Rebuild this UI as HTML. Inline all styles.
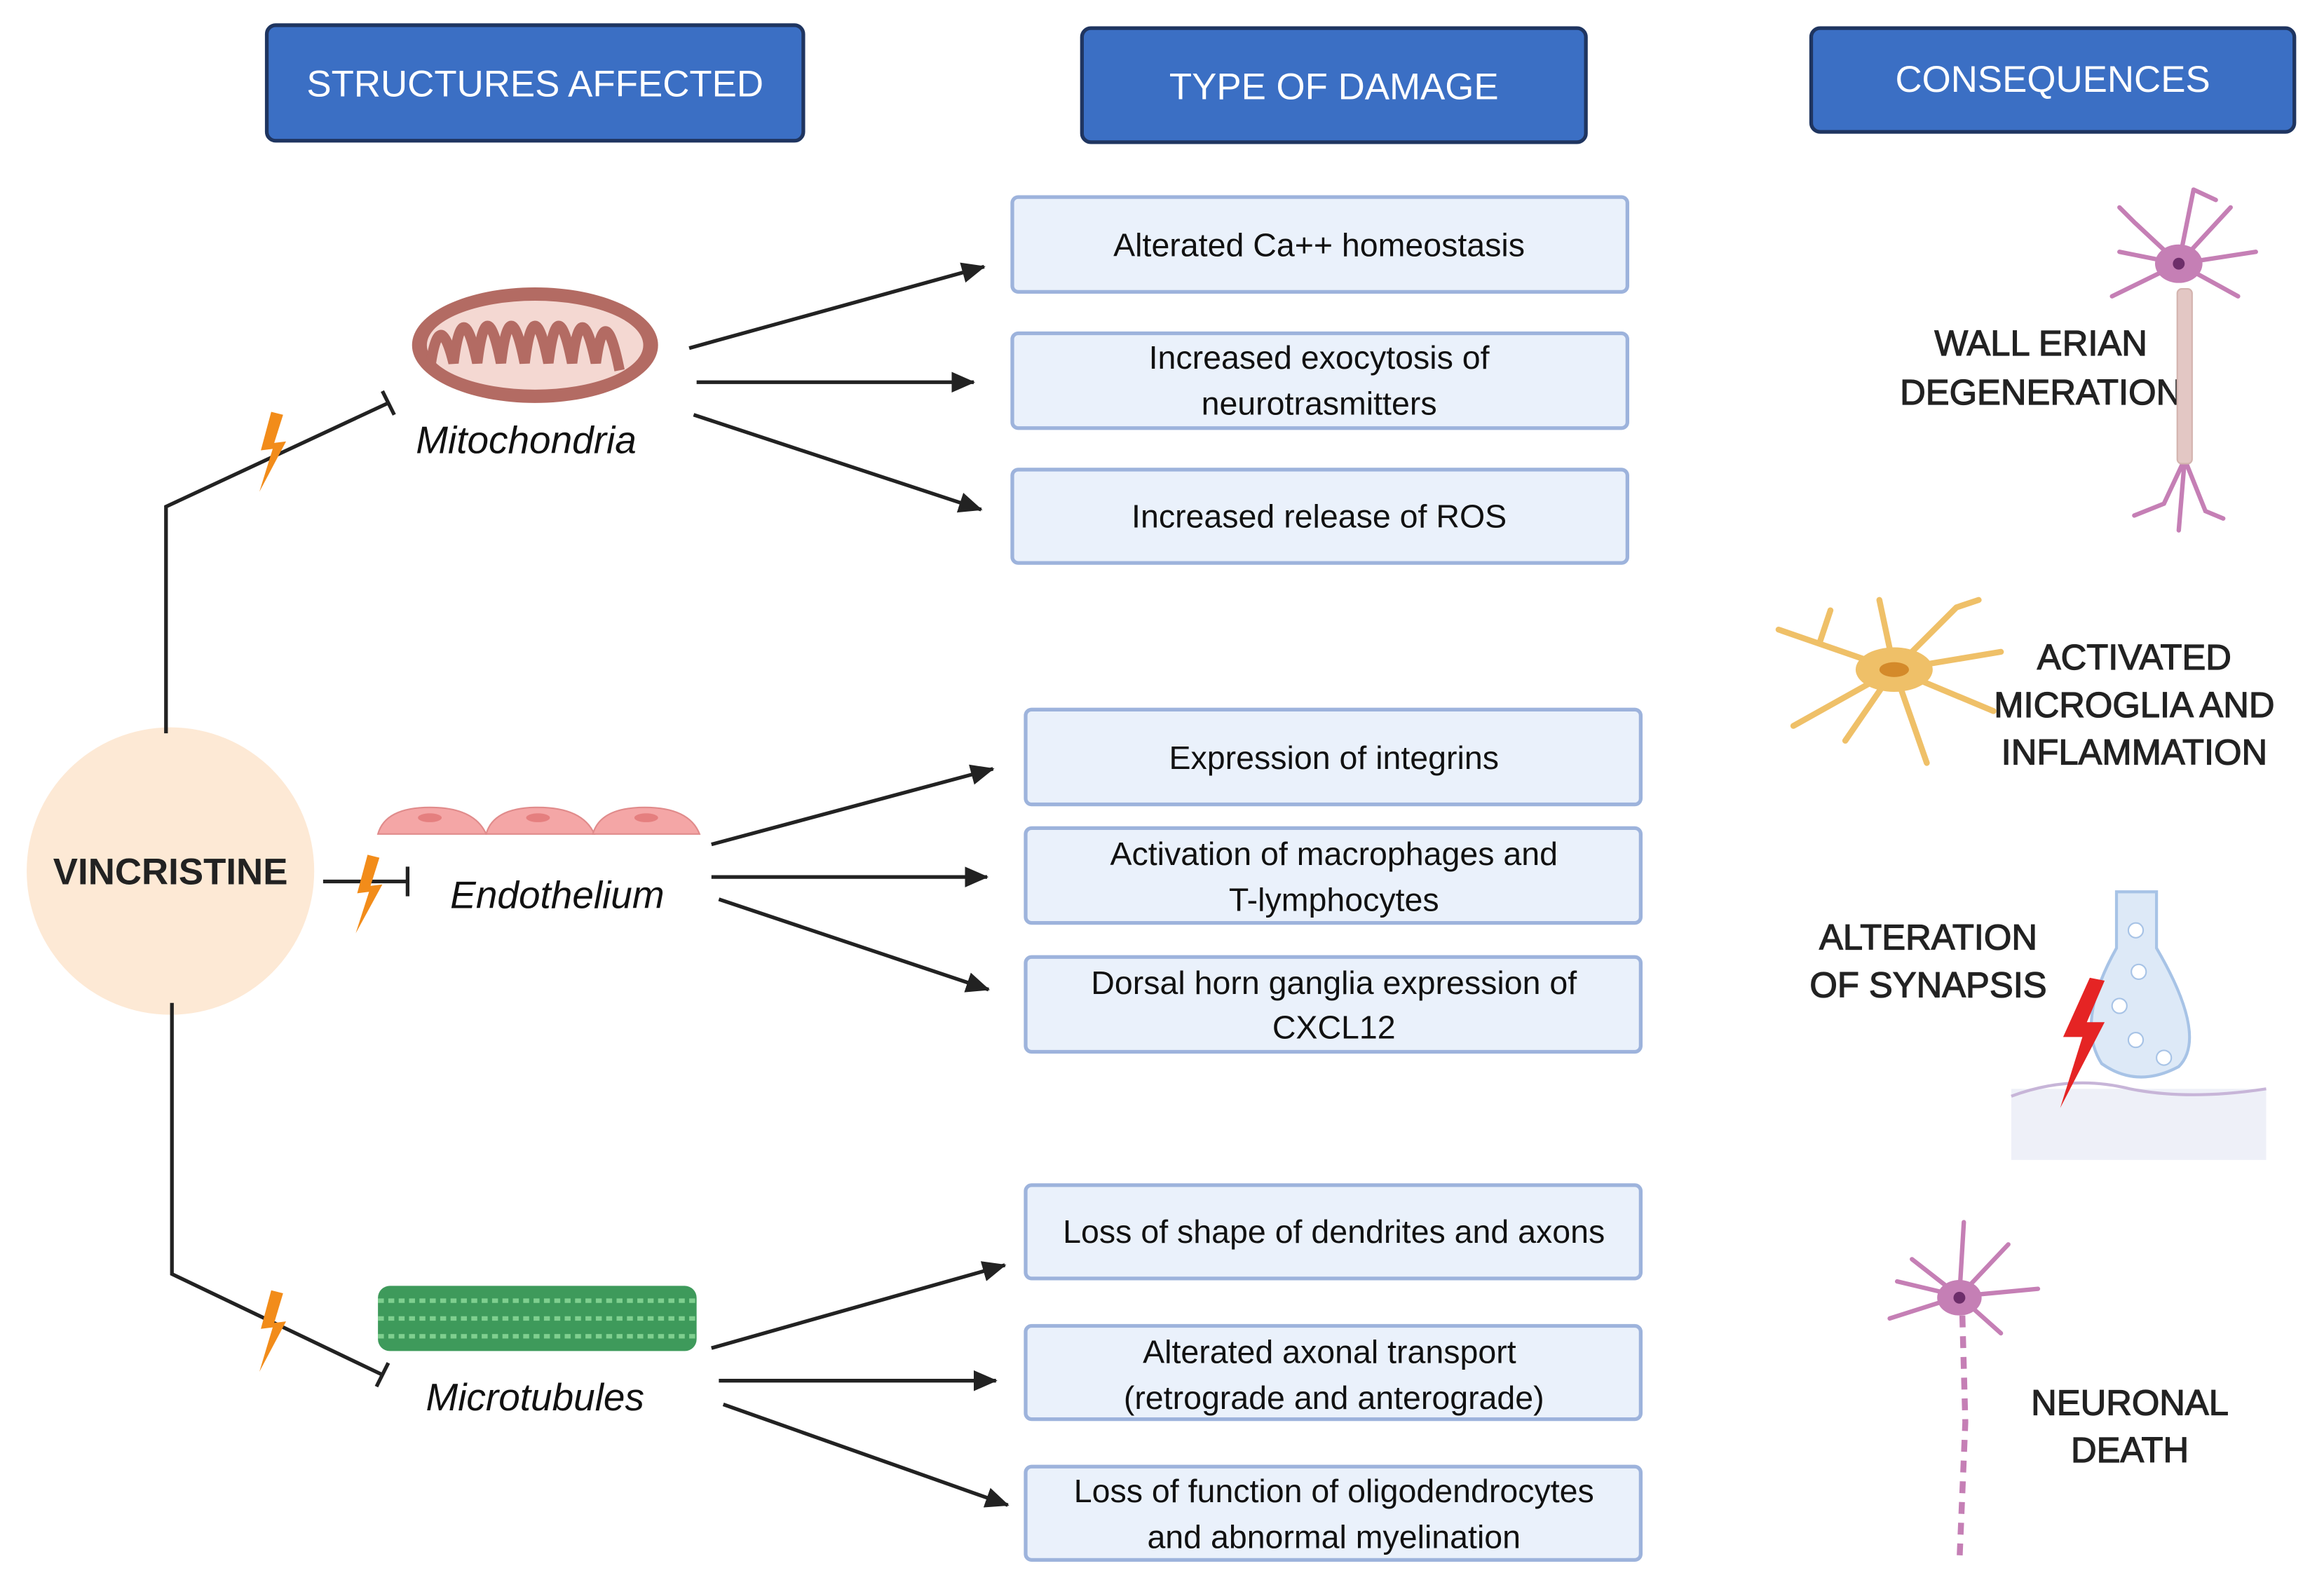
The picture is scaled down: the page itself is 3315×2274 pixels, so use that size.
<!DOCTYPE html>
<html><head><meta charset="utf-8"><style>
html,body{margin:0;padding:0;background:#fff;width:3315px;height:2274px;overflow:hidden}
svg{display:block}
text{font-family:"Liberation Sans",sans-serif}
</style></head><body>
<svg width="3315" height="2274" viewBox="0 0 1568 1076" preserveAspectRatio="none" xmlns="http://www.w3.org/2000/svg">
<defs>
<marker id="ah" markerWidth="16" markerHeight="14" refX="15" refY="7" orient="auto" markerUnits="userSpaceOnUse" viewBox="0 0 16 14"><path d="M0,0 L16,7 L0,14 z" fill="#222"/></marker>
</defs>
<rect width="1568" height="1076" fill="#fff"/>
<g fill="#3b6fc4" stroke="#1f3560" stroke-width="2.5">
<rect x="180" y="17" width="362" height="78" rx="6"/>
<rect x="730" y="19" width="340" height="77" rx="6"/>
<rect x="1222" y="19" width="326" height="70" rx="6"/>
</g>
<g fill="#fff" font-size="25" text-anchor="middle">
<text x="361" y="65">STRUCTURES AFFECTED</text>
<text x="900" y="67">TYPE OF DAMAGE</text>
<text x="1385" y="62">CONSEQUENCES</text>
</g>
<g fill="#eaf1fb" stroke="#9db3dc" stroke-width="2.5">
<rect x="683" y="133" width="415" height="64" rx="4"/>
<rect x="683" y="225" width="415" height="64" rx="4"/>
<rect x="683" y="317" width="415" height="63" rx="4"/>
<rect x="692" y="479" width="415" height="64" rx="4"/>
<rect x="692" y="559" width="415" height="64" rx="4"/>
<rect x="692" y="646" width="415" height="64" rx="4"/>
<rect x="692" y="800" width="415" height="63" rx="4"/>
<rect x="692" y="895" width="415" height="63" rx="4"/>
<rect x="692" y="990" width="415" height="63" rx="4"/>
</g>
<g fill="#111" font-size="22" text-anchor="middle">
<text x="890" y="173">Alterated Ca++ homeostasis</text>
<text x="890" y="249">Increased exocytosis of</text>
<text x="890" y="280">neurotrasmitters</text>
<text x="890" y="356">Increased release of ROS</text>
<text x="900" y="519">Expression of integrins</text>
<text x="900" y="584">Activation of macrophages and</text>
<text x="900" y="615">T-lymphocytes</text>
<text x="900" y="671">Dorsal horn ganglia expression of</text>
<text x="900" y="701">CXCL12</text>
<text x="900" y="839">Loss of shape of dendrites and axons</text>
<text x="897" y="920">Alterated axonal transport</text>
<text x="900" y="951">(retrograde and anterograde)</text>
<text x="900" y="1014">Loss of function of oligodendrocytes</text>
<text x="900" y="1045">and abnormal myelination</text>
</g>
<circle cx="115" cy="588" r="97" fill="#fde9d5"/>
<text x="115" y="597" font-size="25" font-weight="bold" text-anchor="middle" fill="#222">VINCRISTINE</text>
<g stroke="#222" stroke-width="2.5" fill="none">
<polyline points="112,495 112,342 262,272"/>
<line x1="258" y1="264" x2="266" y2="280"/>
<polyline points="116,677 116,860 258,928"/>
<line x1="262" y1="920" x2="254" y2="936"/>
<line x1="218" y1="595" x2="275" y2="595"/>
<line x1="275" y1="585" x2="275" y2="605"/>
</g>
<g stroke="#222" stroke-width="2.5" marker-end="url(#ah)">
<line x1="465" y1="235" x2="664" y2="180"/>
<line x1="470" y1="258" x2="657" y2="258"/>
<line x1="468" y1="280" x2="662" y2="344"/>
<line x1="480" y1="570" x2="670" y2="519"/>
<line x1="480" y1="592" x2="666" y2="592"/>
<line x1="485" y1="607" x2="667" y2="668"/>
<line x1="480" y1="910" x2="678" y2="854"/>
<line x1="485" y1="932" x2="672" y2="932"/>
<line x1="488" y1="948" x2="680" y2="1016"/>
</g>
<g fill="#f28c1a">
<path d="M183,278 L176,304 L184,303 L175,332 L193,298 L185,299 L191,280 z"/>
<path d="M248,577 L241,603 L249,602 L240,630 L258,597 L250,598 L256,579 z"/>
<path d="M183,871 L176,897 L184,896 L175,926 L193,892 L185,893 L191,873 z"/>
</g>
<ellipse cx="361" cy="233" rx="83" ry="39" fill="#b36b63"/>
<ellipse cx="361" cy="233" rx="73" ry="30" fill="#f4d8d2"/>
<path d="M290,250 q6,-45 16,-5 q6,-48 16,0 q6,-50 16,0 q6,-50 16,0 q6,-50 16,0 q6,-50 16,0 q6,-48 16,0 q6,-45 16,5" fill="none" stroke="#b36b63" stroke-width="7"/>
<text x="355" y="306" font-size="26" font-style="italic" text-anchor="middle" fill="#111">Mitochondria</text>
<g fill="#f4a6a6" stroke="#e08b8b">
<path d="M255,563 q5,-18 35,-18 q30,0 38,18 z"/>
<path d="M328,563 q5,-18 35,-18 q30,0 38,18 z"/>
<path d="M400,563 q5,-18 35,-18 q30,0 37,18 z"/>
</g>
<g fill="#e57f7f"><ellipse cx="290" cy="552" rx="8" ry="3"/><ellipse cx="363" cy="552" rx="8" ry="3"/><ellipse cx="436" cy="552" rx="8" ry="3"/></g>
<text x="376" y="613" font-size="26" font-style="italic" text-anchor="middle" fill="#111">Endothelium</text>
<rect x="255" y="868" width="215" height="44" rx="8" fill="#3e9a5b"/>
<g stroke="#7fcf8f" stroke-width="3">
<line x1="255" y1="878" x2="470" y2="878" stroke-dasharray="4 3"/>
<line x1="255" y1="890" x2="470" y2="890" stroke-dasharray="4 3"/>
<line x1="255" y1="902" x2="470" y2="902" stroke-dasharray="4 3"/>
</g>
<text x="361" y="952" font-size="26" font-style="italic" text-anchor="middle" fill="#111">Microtubules</text>
<g fill="#222" stroke="#222" stroke-width="0.6" font-size="24" text-anchor="middle">
<text x="1377" y="240">WALL ERIAN</text>
<text x="1377" y="273">DEGENERATION</text>
<text x="1440" y="452">ACTIVATED</text>
<text x="1440" y="484">MICROGLIA AND</text>
<text x="1440" y="516">INFLAMMATION</text>
<text x="1301" y="641">ALTERATION</text>
<text x="1301" y="673">OF SYNAPSIS</text>
<text x="1437" y="955">NEURONAL</text>
<text x="1437" y="987">DEATH</text>
</g>
<g stroke="#c57fb5" stroke-width="3" fill="none" stroke-linecap="round">
<path d="M1470,178 L1440,150 M1470,178 L1480,128 M1470,178 L1505,140 M1470,178 L1522,170 M1470,178 L1510,200 M1470,178 L1425,200 M1470,178 L1430,170 M1480,128 L1495,135 M1440,150 L1430,140"/>
<path d="M1474,310 L1460,340 L1440,348 M1474,310 L1488,345 L1500,350 M1474,310 L1470,358"/>
</g>
<ellipse cx="1470" cy="178" rx="16" ry="13" fill="#c57fb5"/>
<circle cx="1470" cy="178" r="4" fill="#6d2e6a"/>
<rect x="1469" y="195" width="10" height="118" rx="3" fill="#e3c7c4" stroke="#d3b3ae"/>
<g stroke="#efc068" stroke-width="4" fill="none" stroke-linecap="round">
<path d="M1278,452 L1200,425 M1278,452 L1268,405 M1278,452 L1320,410 M1278,452 L1350,440 M1278,452 L1345,480 M1278,452 L1300,515 M1278,452 L1210,490 M1278,452 L1245,500 M1228,433 L1235,412 M1320,410 L1335,405"/>
</g>
<ellipse cx="1278" cy="452" rx="26" ry="15" fill="#efc068"/>
<ellipse cx="1278" cy="452" rx="10" ry="5" fill="#d48a2a"/>
<rect x="1357" y="735" width="172" height="48" fill="#eef0f8"/>
<path d="M1357,740 q40,-15 80,-5 q40,8 92,0" fill="none" stroke="#c7b5d8" stroke-width="2"/>
<path d="M1428,602 L1428,640 Q1400,690 1418,718 Q1442,735 1470,720 Q1490,700 1455,640 L1455,602 z" fill="#dde9f7" stroke="#a7c3e6" stroke-width="2"/>
<g fill="#fff" stroke="#a7c3e6"><circle cx="1441" cy="628" r="5"/><circle cx="1443" cy="656" r="5"/><circle cx="1430" cy="679" r="5"/><circle cx="1441" cy="702" r="5"/><circle cx="1460" cy="714" r="5"/></g>
<path d="M1410,660 L1392,700 L1405,700 L1390,748 L1420,690 L1408,690 L1420,662 z" fill="#e52424"/>
<g stroke="#c57fb5" stroke-width="3" fill="none" stroke-linecap="round">
<path d="M1322,875 L1290,850 M1322,875 L1325,825 M1322,875 L1355,840 M1322,875 L1375,870 M1322,875 L1350,900 M1322,875 L1275,890 M1322,875 L1280,865"/>
</g>
<ellipse cx="1322" cy="876" rx="15" ry="12" fill="#c57fb5"/>
<circle cx="1322" cy="876" r="4" fill="#6d2e6a"/>
<path d="M1324,888 L1326,960 L1322,1055" stroke="#c57fb5" stroke-width="4" stroke-dasharray="8 6" fill="none"/>
</svg>
</body></html>
